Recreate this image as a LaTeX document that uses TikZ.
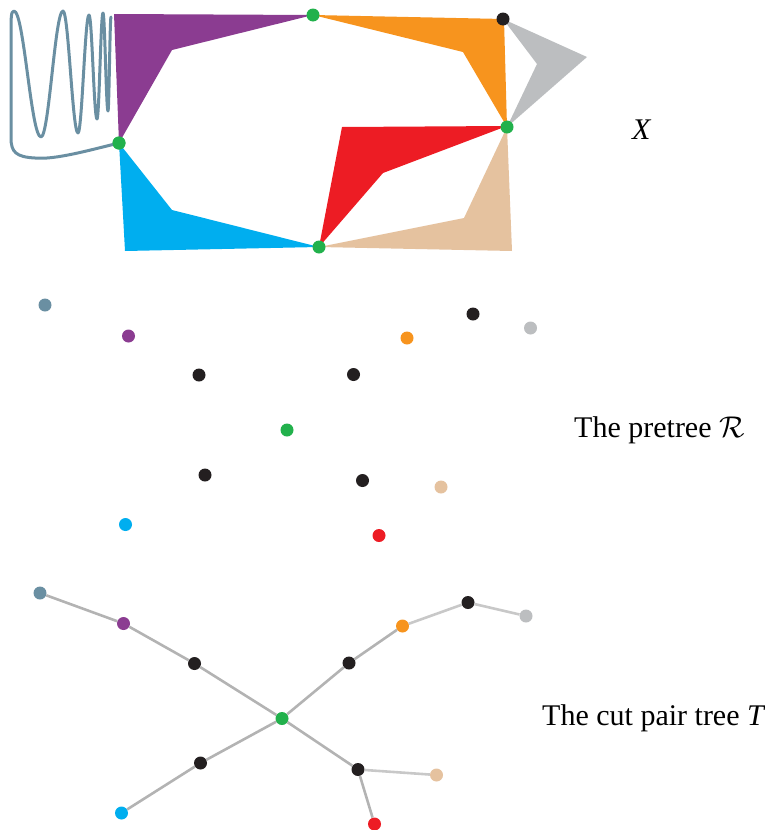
\documentclass[tikz,border=0pt]{standalone}
\usepackage{fix-cm}
\usepackage{fontspec}
\setmainfont{Liberation Serif}
\definecolor{cpurple}{HTML}{8B3C91}
\definecolor{cblue}{HTML}{00AEEF}
\definecolor{corange}{HTML}{F7941E}
\definecolor{cgray}{HTML}{BCBEC0}
\definecolor{cred}{HTML}{ED1C24}
\definecolor{ctan}{HTML}{E5C29F}
\definecolor{cgreen}{HTML}{22B14C}
\definecolor{cblack}{HTML}{231F20}
\definecolor{csteel}{HTML}{6A8FA2}
\definecolor{cedge}{HTML}{B3B3B3}
\definecolor{cedgel}{HTML}{C8C8C8}
\tikzset{
  dot/.style={circle, inner sep=0pt, minimum size=13pt, draw=none},
  treeedge/.style={draw=cedge, line width=2.6pt},
  treeedgel/.style={draw=cedgel, line width=2.6pt},
  label/.style={font=\fontsize{30}{36}\selectfont, inner sep=0pt}
}
\begin{document}
\begin{tikzpicture}[x=1pt, y=-1pt]
\useasboundingbox (0,0) rectangle (764,830);
% ---------- the space X ----------
\fill[cpurple] (114,14) -- (313,15) -- (172,50) -- (119,143) -- cycle;
\fill[cblue] (119,143) -- (172,210) -- (319,247) -- (125,251) -- cycle;
\fill[corange] (313,15) -- (504,19) -- (507,127) -- (463,52) -- cycle;
\fill[cgray] (503,19) -- (587,57) -- (507,127) -- (537,64) -- cycle;
\fill[cred] (342,127) -- (507,126) -- (383,173) -- (319,247) -- cycle;
\fill[ctan] (319,247) -- (464,218) -- (507,127) -- (512,251) -- cycle;
\node[dot, fill=cgreen] (xa) at (313,15) {};
\node[dot, fill=cgreen] (xb) at (119,143) {};
\node[dot, fill=cgreen] (xc) at (319,247) {};
\node[dot, fill=cgreen] (xd) at (507,127) {};
\node[dot, fill=cblack] (xe) at (503,19) {};
\draw[csteel, line width=3pt, line cap=round, line join=round]
  (xb.center) .. controls (90,150) and (55,160) .. (35,158)
  .. controls (16,157) and (11,152) .. (11,138)
  -- (11,32) .. controls (11,18) and (11,11) .. (14,11)
  .. controls (24,11) and (31,137) .. (41,137)
  .. controls (49,137) and (55,11) .. (63,11)
  .. controls (68.5,11) and (72.5,133) .. (78,133)
  .. controls (82,133) and (85,15) .. (89,15)
  .. controls (92,15) and (94,119) .. (97,119)
  .. controls (99.2,119) and (100.8,13) .. (103,13)
  .. controls (104.8,13) and (106.2,111) .. (108,111)
  .. controls (109.1,111) and (109.9,17) .. (111,17);
\node[dot, fill=cgreen] at (xb) {};
\node[label, anchor=base west] (lx) at (632,139) {\textit{X}};
% ---------- the pretree R ----------
\node[dot, fill=csteel] (ra) at (45,305) {};
\node[dot, fill=cpurple] (rb) at (128.5,336) {};
\node[dot, fill=cblack] (rc) at (199,375) {};
\node[dot, fill=cblack] (rd) at (353.5,374.5) {};
\node[dot, fill=corange] (re) at (407,338) {};
\node[dot, fill=cblack] (rf) at (473,314) {};
\node[dot, fill=cgray] (rg) at (530.5,328) {};
\node[dot, fill=cgreen] (rh) at (287,430) {};
\node[dot, fill=cblack] (ri) at (205,475) {};
\node[dot, fill=cblack] (rj) at (362.5,480.5) {};
\node[dot, fill=ctan] (rk) at (441,487) {};
\node[dot, fill=cblue] (rl) at (125.5,524.5) {};
\node[dot, fill=cred] (rm) at (379,535.5) {};
\node[label, anchor=base west] (lr) at (574,437) {The pretree $\mathcal{R}$};
% ---------- the cut pair tree T ----------
\node[dot, fill=csteel] (ta) at (40,593) {};
\node[dot, fill=cpurple] (tb) at (123.5,623.5) {};
\node[dot, fill=cblack] (tc) at (194.5,663.5) {};
\node[dot, fill=cgreen] (th) at (282,718.5) {};
\node[dot, fill=cblack] (td) at (349,663) {};
\node[dot, fill=corange] (te) at (402.5,626) {};
\node[dot, fill=cblack] (tf) at (468,602.5) {};
\node[dot, fill=cgray] (tg) at (526,616) {};
\node[dot, fill=cblack] (ti) at (200.5,763) {};
\node[dot, fill=cblue] (tl) at (121.5,813) {};
\node[dot, fill=cblack] (tj) at (358,769.5) {};
\node[dot, fill=ctan] (tk) at (436.5,775) {};
\node[dot, fill=cred] (tm) at (374.5,824) {};
\draw[treeedge] (ta) -- (tb);
\draw[treeedge] (tb) -- (tc);
\draw[treeedge] (tc) -- (th);
\draw[treeedge] (th) -- (td);
\draw[treeedge] (td) -- (te);
\draw[treeedgel] (te) -- (tf);
\draw[treeedgel] (tf) -- (tg);
\draw[treeedge] (th) -- (ti);
\draw[treeedge] (ti) -- (tl);
\draw[treeedge] (th) -- (tj);
\draw[treeedgel] (tj) -- (tk);
\draw[treeedge] (tj) -- (tm);
\node[label, anchor=base west] (lt) at (542,725) {The cut pair tree \textit{T}};
\end{tikzpicture}
\end{document}
